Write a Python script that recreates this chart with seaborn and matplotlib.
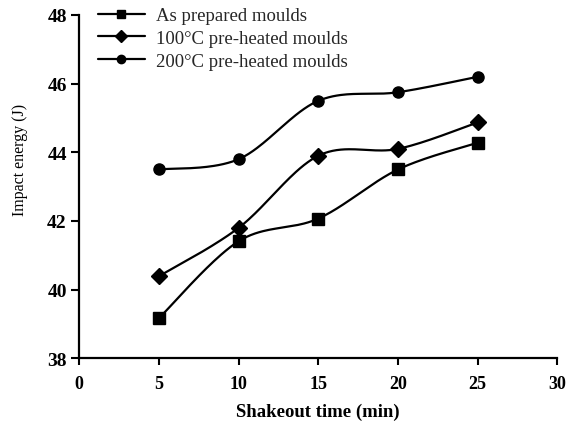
import numpy as np
import pandas as pd
import seaborn as sns
import matplotlib
matplotlib.use("Agg")
import matplotlib.pyplot as plt
from matplotlib.lines import Line2D

shakeout_time = [5, 10, 15, 20, 25]
as_prepared = [39.17, 41.41, 42.07, 43.5, 44.28]
preheated_100 = [40.39, 41.8, 43.9, 44.1, 44.87]
preheated_200 = [43.5, 43.8, 45.5, 45.75, 46.2]
series_names = ["As prepared moulds", "100°C pre-heated moulds", "200°C pre-heated moulds"]
series_markers = ["s", "D", "o"]
x_ticks = [0, 5, 10, 15, 20, 25, 30]
y_ticks = [38, 40, 42, 44, 46, 48]

sns.set_theme(style="ticks")
plt.rcParams["font.family"] = ["Liberation Serif", "DejaVu Serif"]

def smooth(xs, ys, n=40):
    p = np.column_stack([xs, ys]).astype(float)
    pts = np.vstack([p[0], p, p[-1]])
    out = []
    for i in range(1, len(pts) - 2):
        p0, p1, p2, p3 = pts[i - 1], pts[i], pts[i + 1], pts[i + 2]
        c1 = p1 + (p2 - p0) / 6.0
        c2 = p2 - (p3 - p1) / 6.0
        t = np.linspace(0, 1, n)[:, None]
        seg = ((1 - t) ** 3) * p1 + 3 * ((1 - t) ** 2) * t * c1 + 3 * (1 - t) * t ** 2 * c2 + t ** 3 * p2
        out.append(seg if i == 1 else seg[1:])
    out = np.vstack(out)
    return out[:, 0], out[:, 1]

fig = plt.figure(figsize=(5.71, 4.27), dpi=100)
ax = fig.add_axes([79.3 / 571, 1 - 359.3 / 427, (557.3 - 79.3) / 571, (359.3 - 16) / 427])

sizes = {"s": 8.5, "D": 8.0, "o": 8.0}
handles = []
for name, vals, mk in zip(series_names, [as_prepared, preheated_100, preheated_200], series_markers):
    sx, sy = smooth(shakeout_time, vals)
    sns.lineplot(x=sx, y=sy, sort=False, color="black", lw=1.6, ax=ax, legend=False, estimator=None)
    ax.plot(shakeout_time, vals, linestyle="none", marker=mk, color="black", markersize=sizes[mk])
    handles.append(Line2D([], [], color="black", lw=1.6, marker=mk, markersize=sizes[mk] * 0.75, label=name))

ax.set_xlim(0, 30)
ax.set_ylim(38, 48)
ax.set_xticks(x_ticks)
ax.set_yticks(y_ticks)
for s in ["top", "right"]:
    ax.spines[s].set_visible(False)
for s in ["left", "bottom"]:
    ax.spines[s].set_linewidth(1.6)
    ax.spines[s].set_color("black")
ax.tick_params(axis="y", direction="out", length=6, width=1.5, pad=3, labelsize=14, colors="black")
ax.tick_params(axis="x", direction="out", length=5, width=1.5, pad=7, labelsize=13, colors="black")
for lab in ax.get_xticklabels() + ax.get_yticklabels():
    lab.set_fontweight("bold")

ax.set_xlabel("Shakeout time (min)", fontsize=13.5, fontweight="bold", color="black", labelpad=8)
ax.set_ylabel("Impact energy (J)", fontsize=11.5, color="black")
ax.yaxis.set_label_coords(-0.108, 0.58)

fig.legend(handles=handles, loc="upper left", bbox_to_anchor=(98 / 571, 1 - 8 / 427),
           frameon=False, fontsize=13.5, handlelength=2.5, handletextpad=0.6,
           labelspacing=0.3, borderpad=0, borderaxespad=0)

fig.savefig("out.png", dpi=100, facecolor="white")
